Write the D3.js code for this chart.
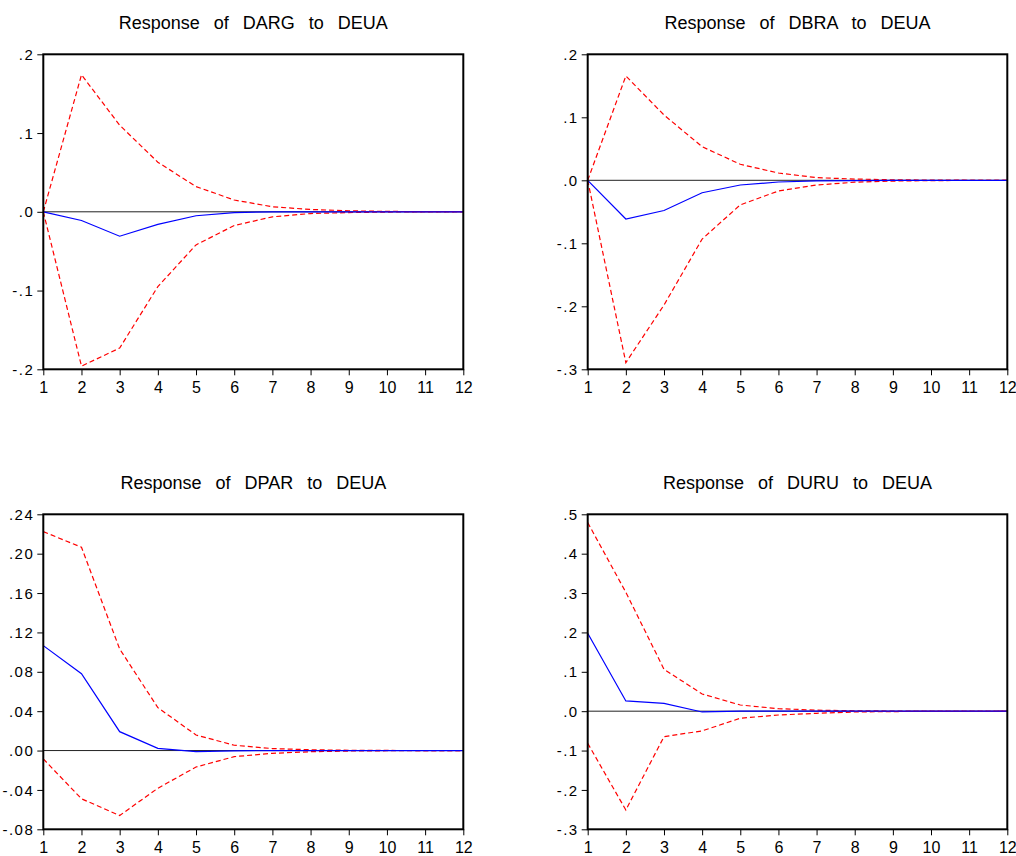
<!DOCTYPE html>
<html>
<head>
<meta charset="utf-8">
<script src="https://cdn.jsdelivr.net/npm/d3@7"></script>
<style>
  html, body { margin: 0; padding: 0; background: #fff; }
  svg { display: block; }
  text { font-family: Arial, "Liberation Sans", sans-serif; fill: #000; }
</style>
</head>
<body>
<svg id="chart" width="1016" height="856"></svg>
<script>
// ---- Data ----
const periods = [1, 2, 3, 4, 5, 6, 7, 8, 9, 10, 11, 12];

const titles = [
  "Response of DARG to DEUA",
  "Response of DBRA to DEUA",
  "Response of DPAR to DEUA",
  "Response of DURU to DEUA"
];

// DARG
const dargResponse = [0, -0.011, -0.031, -0.016, -0.005, -0.001, 0, 0, 0, 0, 0, 0];
const dargUpper    = [0, 0.174, 0.110, 0.063, 0.032, 0.015, 0.0064, 0.003, 0.0013, 0.0005, 0.0002, 0.0001];
const dargLower    = [0, -0.196, -0.173, -0.095, -0.042, -0.0174, -0.0064, -0.0022, -0.001, -0.0003, -0.0001, 0];

// DBRA
const dbraResponse = [0, -0.0614, -0.048, -0.0197, -0.0075, -0.0027, -0.001, -0.0004, 0, 0, 0, 0];
const dbraUpper    = [0, 0.1656, 0.1037, 0.0533, 0.0254, 0.0116, 0.0042, 0.002, 0.0008, 0.0003, 0.0001, 0];
const dbraLower    = [0, -0.2894, -0.198, -0.0932, -0.039, -0.017, -0.0075, -0.003, -0.0012, -0.0005, -0.0002, -0.0001];

// DPAR
const dparResponse = [0.1066, 0.078, 0.0192, 0.0023, -0.001, -0.0004, 0, 0, 0, 0, 0, 0];
const dparUpper    = [0.2224, 0.2065, 0.1032, 0.0436, 0.0158, 0.0054, 0.002, 0.0008, 0.0003, 0.0001, 0, 0];
const dparLower    = [-0.0085, -0.049, -0.066, -0.0383, -0.0167, -0.0062, -0.0028, -0.0012, -0.0005, -0.0002, -0.0001, 0];

// DURU
const duruResponse = [0.198, 0.026, 0.020, -0.002, 0, 0, 0, 0, 0, 0, 0, 0];
const duruUpper    = [0.479, 0.302, 0.1064, 0.0437, 0.0157, 0.0064, 0.0025, 0.001, 0.0004, 0.0002, 0.0001, 0];
const duruLower    = [-0.0815, -0.251, -0.0647, -0.050, -0.018, -0.0097, -0.0054, -0.002, -0.001, -0.0004, -0.0002, -0.0001];

// Y-axis ticks (values and labels)
const dargTicks = [-0.2, -0.1, 0, 0.1, 0.2];
const dargTickLabels = ["-.2", "-.1", ".0", ".1", ".2"];
const dbraTicks = [-0.3, -0.2, -0.1, 0, 0.1, 0.2];
const dbraTickLabels = ["-.3", "-.2", "-.1", ".0", ".1", ".2"];
const dparTicks = [-0.08, -0.04, 0, 0.04, 0.08, 0.12, 0.16, 0.20, 0.24];
const dparTickLabels = ["-.08", "-.04", ".00", ".04", ".08", ".12", ".16", ".20", ".24"];
const duruTicks = [-0.3, -0.2, -0.1, 0, 0.1, 0.2, 0.3, 0.4, 0.5];
const duruTickLabels = ["-.3", "-.2", "-.1", ".0", ".1", ".2", ".3", ".4", ".5"];

// ---- Panels (built from the arrays above) ----
const panels = [
  { title: titles[0], resp: dargResponse, up: dargUpper, lo: dargLower, ticks: dargTicks, labels: dargTickLabels },
  { title: titles[1], resp: dbraResponse, up: dbraUpper, lo: dbraLower, ticks: dbraTicks, labels: dbraTickLabels },
  { title: titles[2], resp: dparResponse, up: dparUpper, lo: dparLower, ticks: dparTicks, labels: dparTickLabels },
  { title: titles[3], resp: duruResponse, up: duruUpper, lo: duruLower, ticks: duruTicks, labels: duruTickLabels }
];

// Layout
const boxes = [
  { x0: 43.3, x1: 463.3, y0: 54.3, y1: 369.3 },
  { x0: 587.7, x1: 1007.3, y0: 54.3, y1: 369.3 },
  { x0: 43.3, x1: 463.3, y0: 514.3, y1: 829.3 },
  { x0: 587.7, x1: 1007.3, y0: 514.3, y1: 829.3 }
];

const svg = d3.select("#chart");

panels.forEach((p, i) => {
  const b = boxes[i];
  const x = d3.scaleLinear().domain([1, 12]).range([b.x0, b.x1]);
  const y = d3.scaleLinear().domain([p.ticks[0], p.ticks[p.ticks.length - 1]]).range([b.y1, b.y0]);
  const g = svg.append("g");

  // title
  g.append("text")
    .attr("x", (b.x0 + b.x1) / 2)
    .attr("y", b.y0 - 25.5)
    .attr("text-anchor", "middle")
    .style("font-size", "18px")
    .style("word-spacing", "9px")
    .text(p.title);

  // y axis
  const yAxis = d3.axisLeft(y)
    .tickValues(p.ticks)
    .tickFormat((d, k) => p.labels[k])
    .tickSize(6)
    .tickPadding(3);
  const ya = g.append("g").attr("transform", `translate(${b.x0},0)`).call(yAxis);
  ya.select(".domain").remove();
  ya.selectAll("text")
    .style("font-size", "15px")
    .style("letter-spacing", "1.5px")
    .attr("dy", "0.34em");
  ya.selectAll("line").attr("stroke", "#000").attr("stroke-width", 1);

  // x axis
  const xAxis = d3.axisBottom(x)
    .tickValues(periods)
    .tickFormat(d3.format("d"))
    .tickSize(6)
    .tickPadding(6);
  const xa = g.append("g").attr("transform", `translate(0,${b.y1})`).call(xAxis);
  xa.select(".domain").remove();
  xa.selectAll("text")
    .style("font-size", "16px");
  xa.selectAll("line").attr("stroke", "#000").attr("stroke-width", 1);

  // zero line
  g.append("line")
    .attr("x1", b.x0).attr("x2", b.x1)
    .attr("y1", y(0)).attr("y2", y(0))
    .attr("stroke", "#222").attr("stroke-width", 1);

  const line = d3.line().x((d, k) => x(periods[k])).y(d => y(d));

  // bands
  [p.up, p.lo].forEach(s => {
    g.append("path")
      .attr("d", line(s))
      .attr("fill", "none")
      .attr("stroke", "#ff0000")
      .attr("stroke-width", 1.2)
      .attr("stroke-dasharray", "5,3");
  });

  // response
  g.append("path")
    .attr("d", line(p.resp))
    .attr("fill", "none")
    .attr("stroke", "#0000ff")
    .attr("stroke-width", 1.2);

  // frame
  g.append("rect")
    .attr("x", b.x0).attr("y", b.y0)
    .attr("width", b.x1 - b.x0).attr("height", b.y1 - b.y0)
    .attr("fill", "none")
    .attr("stroke", "#000")
    .attr("stroke-width", 2);
});
</script>
</body>
</html>
